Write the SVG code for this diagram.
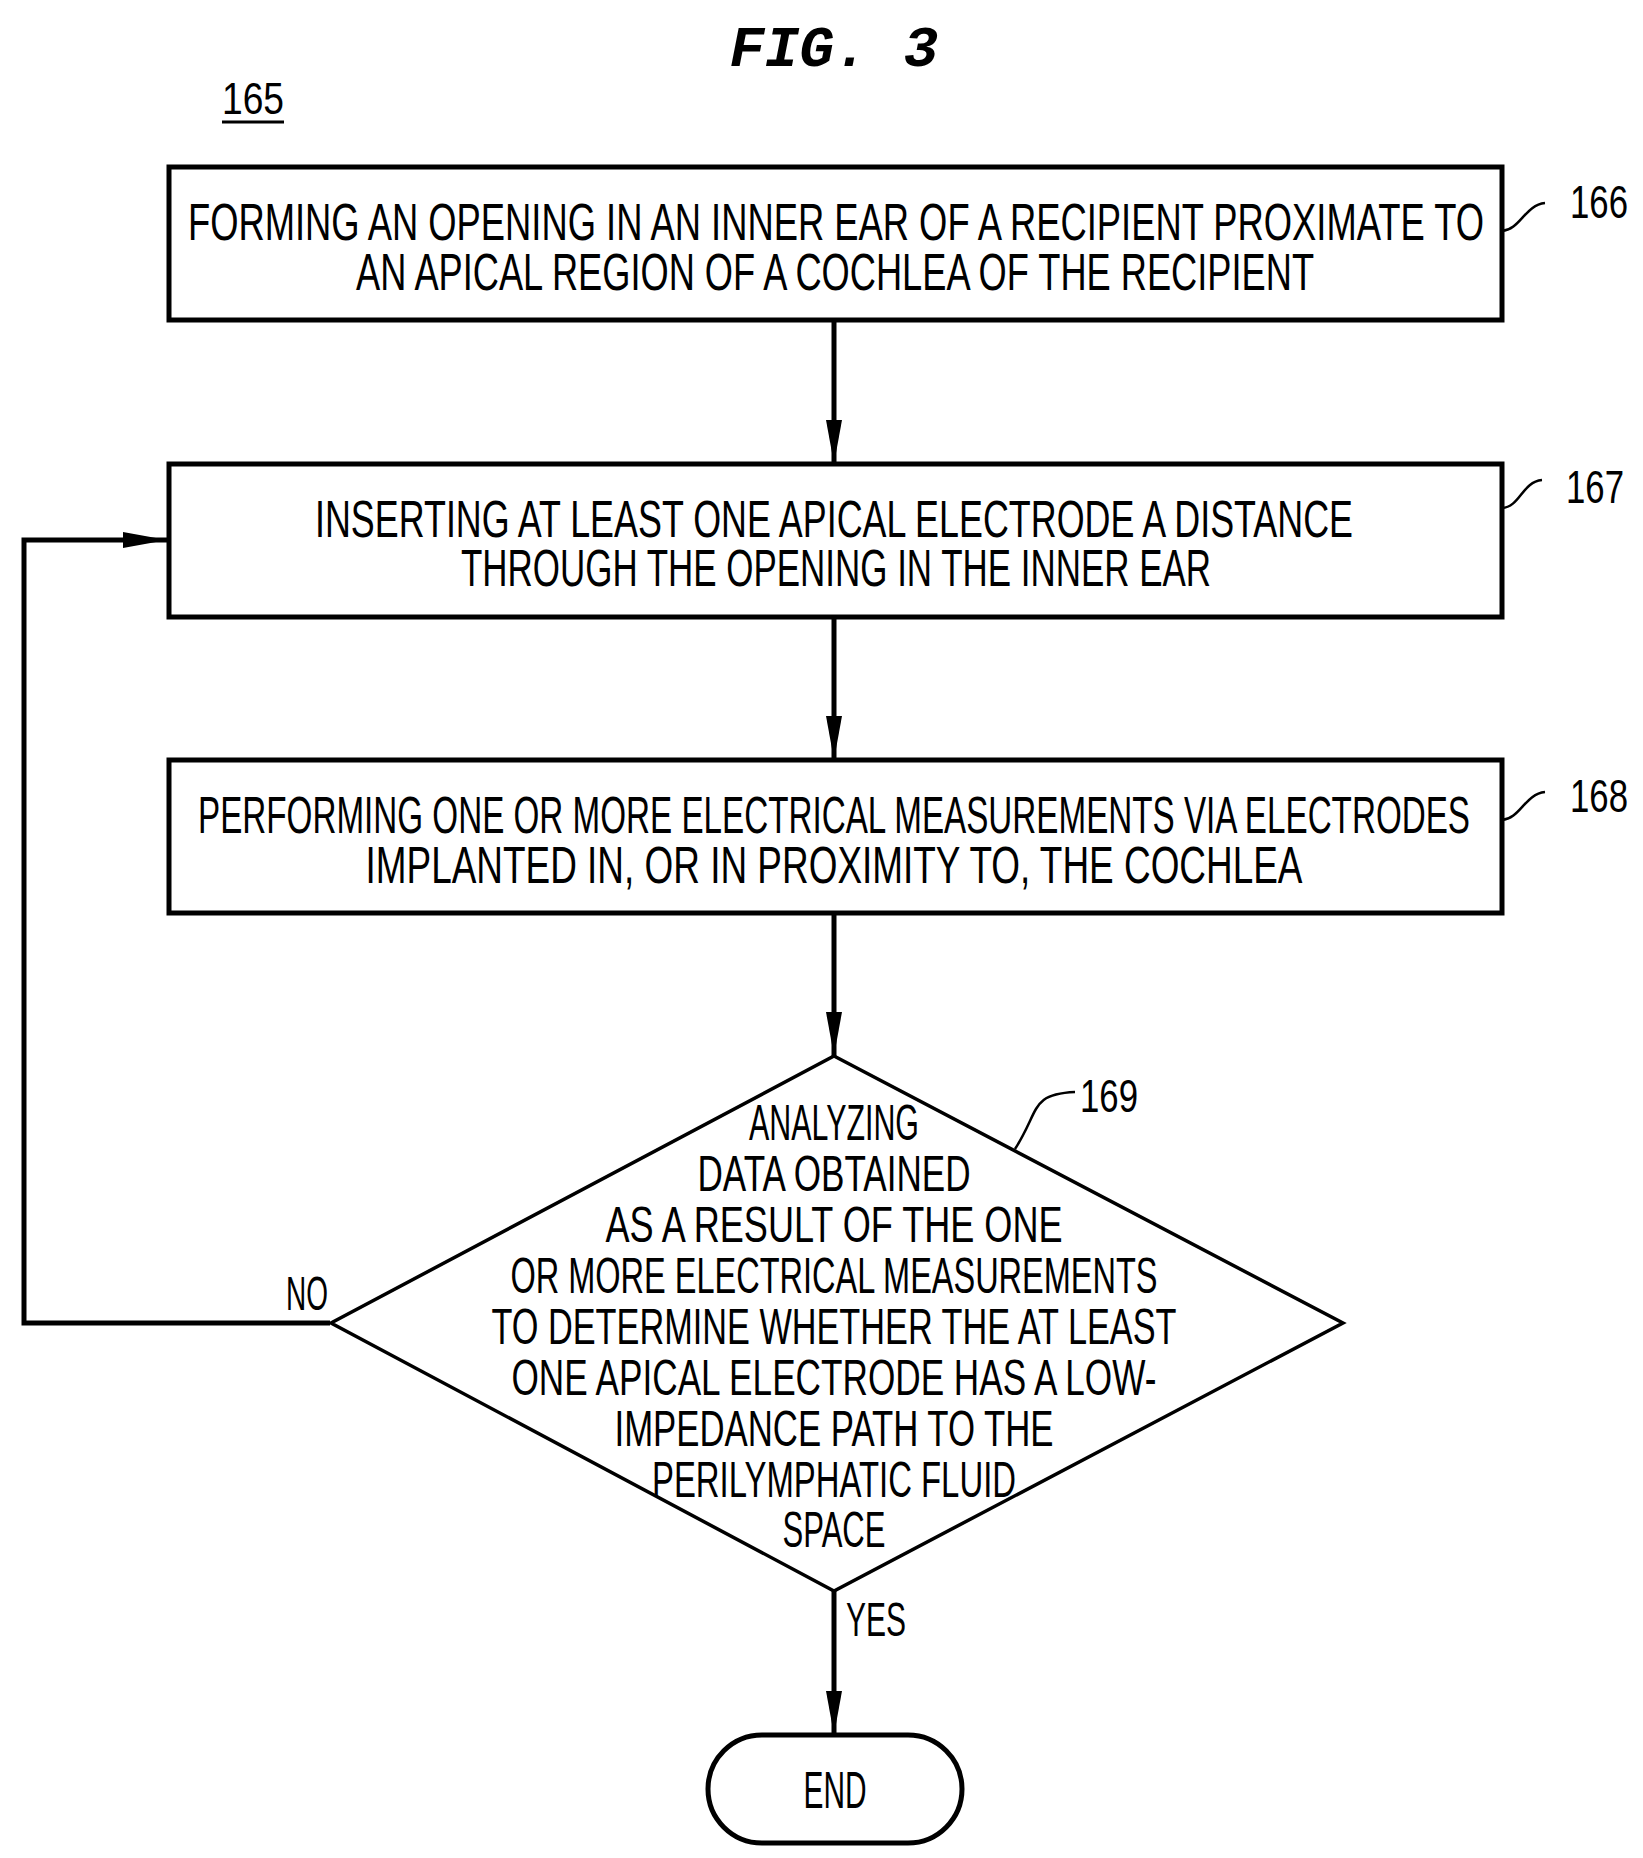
<svg xmlns="http://www.w3.org/2000/svg" width="1643" height="1858" viewBox="0 0 1643 1858">
<style>
text{font-family:"Liberation Sans",Arial,sans-serif;fill:#000}
.t{font-size:52px}
.b{fill:#fff;stroke:#000;stroke-width:5}
.c{fill:none;stroke:#000;stroke-width:5}
.s{fill:none;stroke:#000;stroke-width:2.5}
</style>
<defs><marker id="a" markerWidth="44" markerHeight="16" refX="44" refY="8" orient="auto" markerUnits="userSpaceOnUse" viewBox="0 0 44 16"><path d="M0,0 L44,8 L0,16 Z" fill="#000"/></marker></defs>
<text x="834" y="66" text-anchor="middle" font-size="58" font-weight="bold" font-style="italic" style="font-family:'Liberation Mono',monospace">FIG. 3</text>
<text x="222" y="114" font-size="44" textLength="62" lengthAdjust="spacingAndGlyphs">165</text>
<line x1="222" y1="122" x2="284" y2="122" stroke="#000" stroke-width="3"/>
<g id="connectors">
<line class="c" x1="834" y1="320" x2="834" y2="464" marker-end="url(#a)"/>
<line class="c" x1="834" y1="617" x2="834" y2="760" marker-end="url(#a)"/>
<line class="c" x1="834" y1="913" x2="834" y2="1056" marker-end="url(#a)"/>
<line class="c" x1="834" y1="1591" x2="834" y2="1735" marker-end="url(#a)"/>
<polyline class="c" points="330,1323 24,1323 24,540 167,540" marker-end="url(#a)"/>
<text x="286" y="1310" font-size="48" textLength="42" lengthAdjust="spacingAndGlyphs">NO</text>
<text x="846" y="1636" font-size="48" textLength="60" lengthAdjust="spacingAndGlyphs">YES</text>
</g>
<g id="n166">
<rect class="b" x="169" y="167" width="1333" height="153"/>
<text class="t" x="836" y="240" text-anchor="middle" textLength="1296" lengthAdjust="spacingAndGlyphs">FORMING AN OPENING IN AN INNER EAR OF A RECIPIENT PROXIMATE TO</text>
<text class="t" x="835" y="290" text-anchor="middle" textLength="958" lengthAdjust="spacingAndGlyphs">AN APICAL REGION OF A COCHLEA OF THE RECIPIENT</text>
<path class="s" d="M1502,231 C1520,230 1525,205 1545,203"/>
<text x="1570" y="218" font-size="46" textLength="58" lengthAdjust="spacingAndGlyphs">166</text>
</g>
<g id="n167">
<rect class="b" x="169" y="464" width="1333" height="153"/>
<text class="t" x="834" y="537" text-anchor="middle" textLength="1038" lengthAdjust="spacingAndGlyphs">INSERTING AT LEAST ONE APICAL ELECTRODE A DISTANCE</text>
<text class="t" x="836" y="586" text-anchor="middle" textLength="750" lengthAdjust="spacingAndGlyphs">THROUGH THE OPENING IN THE INNER EAR</text>
<path class="s" d="M1502,508 C1520,507 1522,482 1542,480"/>
<text x="1566" y="503" font-size="46" textLength="58" lengthAdjust="spacingAndGlyphs">167</text>
</g>
<g id="n168">
<rect class="b" x="169" y="760" width="1333" height="153"/>
<text class="t" x="834" y="833" text-anchor="middle" textLength="1272" lengthAdjust="spacingAndGlyphs">PERFORMING ONE OR MORE ELECTRICAL MEASUREMENTS VIA ELECTRODES</text>
<text class="t" x="834" y="883" text-anchor="middle" textLength="937" lengthAdjust="spacingAndGlyphs">IMPLANTED IN, OR IN PROXIMITY TO, THE COCHLEA</text>
<path class="s" d="M1502,820 C1520,819 1525,794 1545,792"/>
<text x="1570" y="812" font-size="46" textLength="58" lengthAdjust="spacingAndGlyphs">168</text>
</g>
<g id="n169">
<polygon fill="#fff" stroke="#000" stroke-width="3.5" points="834,1056 1343,1323 834,1591 331,1323"/>
<g text-anchor="middle" font-size="50">
<text x="834" y="1140" textLength="170" lengthAdjust="spacingAndGlyphs">ANALYZING</text>
<text x="834" y="1191" textLength="273" lengthAdjust="spacingAndGlyphs">DATA OBTAINED</text>
<text x="834" y="1242" textLength="457" lengthAdjust="spacingAndGlyphs">AS A RESULT OF THE ONE</text>
<text x="834" y="1293" textLength="647" lengthAdjust="spacingAndGlyphs">OR MORE ELECTRICAL MEASUREMENTS</text>
<text x="834" y="1344" textLength="685" lengthAdjust="spacingAndGlyphs">TO DETERMINE WHETHER THE AT LEAST</text>
<text x="834" y="1395" textLength="645" lengthAdjust="spacingAndGlyphs">ONE APICAL ELECTRODE HAS A LOW-</text>
<text x="834" y="1446" textLength="439" lengthAdjust="spacingAndGlyphs">IMPEDANCE PATH TO THE</text>
<text x="834" y="1497" textLength="364" lengthAdjust="spacingAndGlyphs">PERILYMPHATIC FLUID</text>
<text x="834" y="1547" textLength="103" lengthAdjust="spacingAndGlyphs">SPACE</text>
</g>
<path class="s" d="M1015,1149 C1040,1110 1030,1094 1075,1092"/>
<text x="1080" y="1112" font-size="46" textLength="58" lengthAdjust="spacingAndGlyphs">169</text>
</g>
<g id="end">
<rect class="b" x="708" y="1735" width="254" height="108" rx="54" ry="54"/>
<text class="t" x="835" y="1808" text-anchor="middle" textLength="63" lengthAdjust="spacingAndGlyphs">END</text>
</g>
</svg>
